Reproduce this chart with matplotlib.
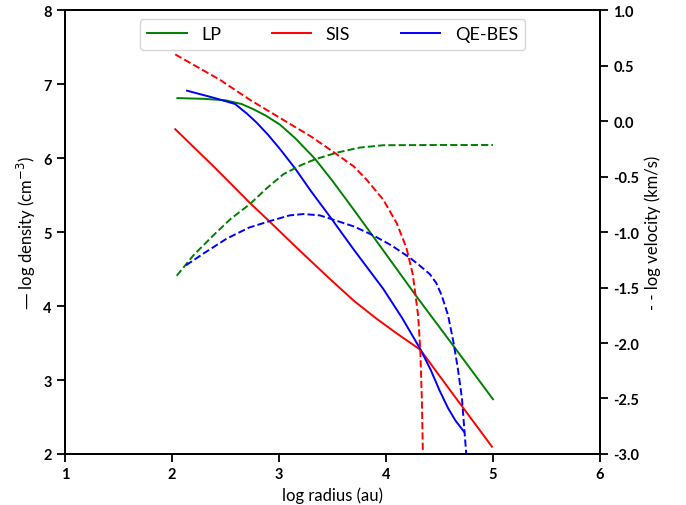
import numpy as np
import matplotlib.pyplot as plt

plt.rcParams['font.family'] = ['Lato', 'DejaVu Sans']
plt.rcParams['mathtext.fontset'] = 'dejavusans'

# log radius (au) and log density (cm^-3)
lp_r = [2.05, 2.3, 2.5, 2.65, 2.76, 2.88, 3.01, 3.15, 3.336, 3.5, 3.664, 3.85, 4.0, 4.3, 4.6, 5.0]
lp_n = [6.81, 6.80, 6.78, 6.73, 6.66, 6.57, 6.45, 6.27, 5.99, 5.69, 5.37, 5.0, 4.70, 4.10, 3.52, 2.74]

sis_r = [2.03, 2.4, 2.73, 2.92, 3.2, 3.48, 3.7, 3.91, 4.1, 4.32, 4.6, 4.99]
sis_n = [6.39, 5.87, 5.39, 5.13, 4.74, 4.36, 4.07, 3.83, 3.63, 3.41, 2.86, 2.10]

bes_r = [2.14, 2.4, 2.59, 2.7, 2.79, 2.9, 3.01, 3.15, 3.3, 3.49, 3.7, 3.975, 4.15, 4.32, 4.42, 4.5, 4.58, 4.65, 4.73]
bes_n = [6.91, 6.81, 6.73, 6.60, 6.48, 6.31, 6.12, 5.86, 5.55, 5.18, 4.76, 4.23, 3.84, 3.42, 3.13, 2.86, 2.62, 2.45, 2.30]

# log velocity (km/s)
lp_vr = [2.044, 2.2, 2.386, 2.55, 2.729, 2.88, 3.04, 3.2, 3.336, 3.54, 3.75, 3.975, 4.5, 5.0]
lp_v = [-1.394, -1.21, -1.03, -0.88, -0.748, -0.61, -0.48, -0.40, -0.345, -0.285, -0.24, -0.218, -0.216, -0.216]

sis_vr = [2.03, 2.45, 2.73, 3.04, 3.3, 3.54, 3.7, 3.82, 3.975, 4.1, 4.19, 4.25, 4.30, 4.32, 4.335, 4.345]
sis_v = [0.60, 0.37, 0.19, 0.01, -0.14, -0.30, -0.41, -0.53, -0.71, -0.92, -1.14, -1.38, -1.75, -2.05, -2.5, -3.0]

bes_vr = [2.13, 2.3, 2.51, 2.72, 2.92, 3.1, 3.23, 3.38, 3.48, 3.7, 3.88, 4.05, 4.22, 4.3, 4.41, 4.47, 4.52, 4.58, 4.63, 4.67, 4.71, 4.73, 4.75]
bes_v = [-1.30, -1.19, -1.06, -0.96, -0.90, -0.85, -0.838, -0.85, -0.88, -0.95, -1.03, -1.12, -1.23, -1.29, -1.38, -1.46, -1.57, -1.75, -1.99, -2.22, -2.50, -2.75, -3.0]

fig = plt.figure(figsize=(6.86, 5.06), dpi=100)
ax = fig.add_axes([0.0948, 0.1008, 0.7798, 0.8774])
ax2 = ax.twinx()

ax.plot(lp_r, lp_n, color='green', lw=1.4, label='LP')
ax.plot(sis_r, sis_n, color='red', lw=1.4, label='SIS')
ax.plot(bes_r, bes_n, color='blue', lw=1.4, label='QE-BES')

ax2.plot(lp_vr, lp_v, color='green', lw=1.4, ls='--')
ax2.plot(sis_vr, sis_v, color='red', lw=1.4, ls='--')
ax2.plot(bes_vr, bes_v, color='blue', lw=1.4, ls='--')

ax.set_xlim(1, 6)
ax.set_ylim(2, 8)
ax2.set_ylim(-3, 1)
ax.set_xticks([1, 2, 3, 4, 5, 6])
ax.set_yticks([2, 3, 4, 5, 6, 7, 8])
ax2.set_yticks(np.arange(-3, 1.01, 0.5))
ax2.set_yticklabels(['%.1f' % t for t in np.arange(-3, 1.01, 0.5)])

for a in (ax, ax2):
    a.tick_params(length=6, width=1.3, labelsize=10.5)
    for lab in a.get_xticklabels() + a.get_yticklabels():
        lab.set_fontweight('bold')
    for s in a.spines.values():
        s.set_linewidth(1.3)

ax.set_xlabel('log radius (au)', fontsize=12)
ax.set_ylabel('— log density (cm$^{-3}$)', fontsize=12)
ax2.set_ylabel('- - log velocity (km/s)', fontsize=12)

ax.legend(loc='upper center', ncol=3, fontsize=13, columnspacing=2.8,
          handlelength=2.2, bbox_to_anchor=(0.5, 1.0))

fig.savefig('out.png', dpi=100)
